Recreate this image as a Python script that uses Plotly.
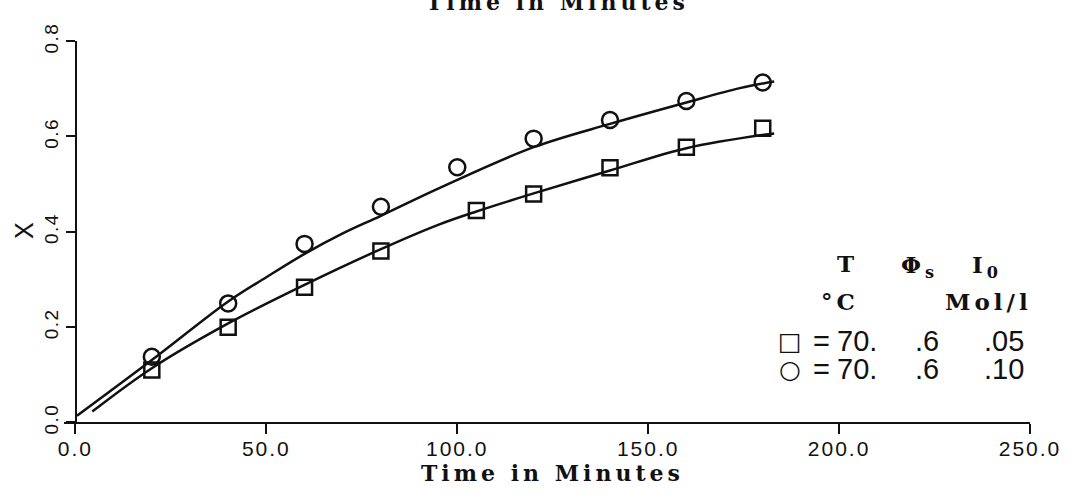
import plotly.graph_objects as go

# Conversion X versus time (min); circles: I0 = .10 mol/l, squares: I0 = .05 mol/l
circle_time = [20, 40, 60, 80, 100, 120, 140, 160, 180]
circle_conv = [0.137, 0.249, 0.374, 0.452, 0.535, 0.595, 0.634, 0.674, 0.713]
square_time = [20, 40, 60, 80, 105, 120, 140, 160, 180]
square_conv = [0.109, 0.199, 0.283, 0.359, 0.444, 0.479, 0.534, 0.577, 0.617]

# Smooth model curves drawn through each series
fit_circle_time = [0.4, 20, 40, 50, 60, 70, 80, 95, 120, 140, 160, 174, 183]
fit_circle_conv = [0.013, 0.130, 0.253, 0.304, 0.353, 0.396, 0.433, 0.490, 0.577, 0.626, 0.671, 0.701, 0.715]
fit_square_time = [4.4, 20, 40, 60, 80, 95, 105, 120, 140, 160, 183]
fit_square_conv = [0.022, 0.113, 0.207, 0.288, 0.363, 0.414, 0.442, 0.480, 0.528, 0.575, 0.606]

x_tick_vals = [0, 50, 100, 150, 200, 250]
x_tick_text = ["0.0", "50.0", "100.0", "150.0", "200.0", "250.0"]
y_tick_vals = [0.0, 0.2, 0.4, 0.6, 0.8]
y_tick_text = ["0.0", "0.2", "0.4", "0.6", "0.8"]

# Key table: header, units and one row per run
key_header = ["T", "Φ<sub>s</sub>", "I<sub>0</sub>"]
key_units = ["°C", "Mol/l"]
key_symbols = ["□", "○"]
key_temp = ["70.", "70."]
key_phi = [".6", ".6"]
key_conc = [".05", ".10"]

W, H = 1077, 498
ML, MR, MT, MB = 64, 47, 41, 76
PW, PH = W - ML - MR, H - MT - MB

SERIF = "DejaVu Serif"
SANS = "Liberation Sans"
INK = "#111111"


def px(x):
    return (x - ML) / PW


def py(y):
    return (H - MB - y) / PH


fig = go.Figure()

fig.add_trace(go.Scatter(x=fit_circle_time, y=fit_circle_conv, mode="lines",
                         line=dict(color=INK, width=2.5, shape="spline", smoothing=1.0),
                         hoverinfo="skip"))
fig.add_trace(go.Scatter(x=fit_square_time, y=fit_square_conv, mode="lines",
                         line=dict(color=INK, width=2.5, shape="spline", smoothing=1.0),
                         hoverinfo="skip"))
fig.add_trace(go.Scatter(x=circle_time, y=circle_conv, mode="markers",
                         marker=dict(symbol="circle-open", size=16, color=INK,
                                     line=dict(width=2.5, color=INK))))
fig.add_trace(go.Scatter(x=square_time, y=square_conv, mode="markers",
                         marker=dict(symbol="square-open", size=15, color=INK,
                                     line=dict(width=2.5, color=INK))))

ann = []


def label(text, xp, yp, family, size, weight="normal", **kw):
    ann.append(dict(text=text, x=px(xp), y=py(yp), xref="paper", yref="paper",
                    xanchor="center", yanchor="middle", showarrow=False, borderpad=0,
                    font=dict(family=family, size=size, color=INK, weight=weight), **kw))


# axis titles
label("Time in Minutes", 552, 473, SERIF, 22, "bold")
label("Time in Minutes", 557, 2, SERIF, 22, "bold")
label("X", 24, 231, SANS, 25, textangle=-90)

# key table
label(key_header[0], 847, 263, SERIF, 23, "bold")
label(key_header[1], 919, 266, SERIF, 23, "bold")
label(key_header[2], 987, 266, SERIF, 23, "bold")
label(key_units[0], 840, 301, SERIF, 23, "bold")
label(key_units[1], 988, 301, SERIF, 23, "bold")
for i, yy in enumerate([341, 369]):
    label(key_symbols[i], 790, yy, "DejaVu Sans", 25)
    label("=", 821, yy, SANS, 29)
    label(key_temp[i], 857, yy, SANS, 29)
    label(key_phi[i], 927, yy, SANS, 29)
    label(key_conc[i], 1004, yy, SANS, 29)

fig.update_layout(
    width=W, height=H,
    margin=dict(l=ML, r=MR, t=MT, b=MB, pad=0),
    paper_bgcolor="white", plot_bgcolor="white",
    showlegend=False,
    annotations=ann,
    xaxis=dict(range=[-3, 250], showgrid=False, zeroline=False,
               showline=True, linecolor=INK, linewidth=2,
               ticks="outside", ticklen=10, tickwidth=2, tickcolor=INK,
               ticklabelstandoff=-3,
               tickvals=x_tick_vals, ticktext=x_tick_text,
               tickfont=dict(family=SANS, size=21, color=INK)),
    yaxis=dict(range=[0, 0.8], showgrid=False, zeroline=False,
               anchor="free", position=px(75.5),
               showline=True, linecolor=INK, linewidth=2,
               ticks="outside", ticklen=9, tickwidth=2, tickcolor=INK,
               tickvals=y_tick_vals, ticktext=y_tick_text, tickangle=-90,
               tickfont=dict(family=SANS, size=19, color=INK)),
)

# widen the lettering of titles and tick labels
spacing_js = """
var gd = document.getElementById('{plot_id}');
function spread() {
  gd.querySelectorAll('.annotation-text').forEach(function (t) {
    if ((t.style.fontFamily || '').indexOf('Serif') >= 0) t.style.letterSpacing = '4px';
  });
  gd.querySelectorAll('.xtick text').forEach(function (t) { t.style.letterSpacing = '2px'; });
  gd.querySelectorAll('.ytick text').forEach(function (t) { t.style.letterSpacing = '1.5px'; });
}
spread();
gd.on('plotly_afterplot', spread);
"""

fig.write_html("out.html", post_script=spacing_js, config={"displayModeBar": False})
